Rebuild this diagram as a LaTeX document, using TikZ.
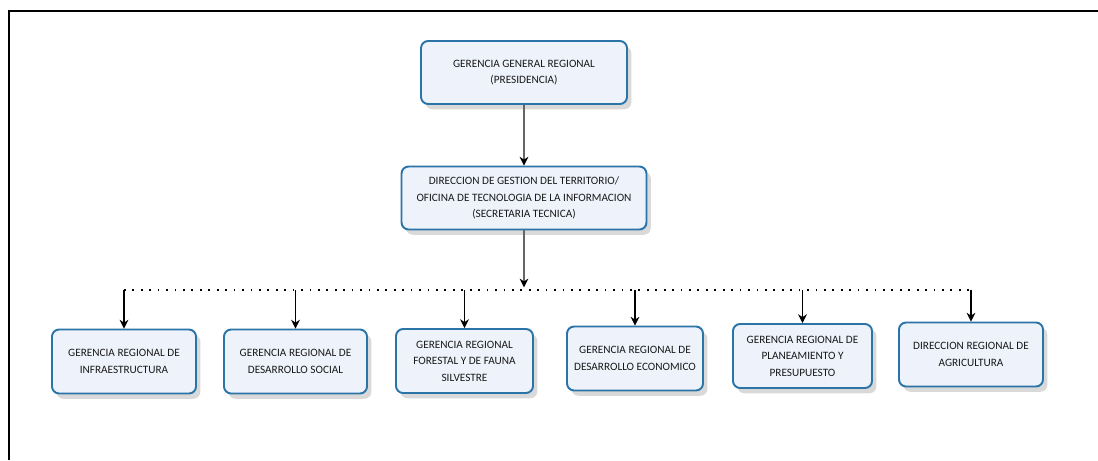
\documentclass[tikz,border=0pt]{standalone}
\usepackage{fontspec}
\setmainfont{Carlito}
\usetikzlibrary{shapes,arrows,shadows}
\usetikzlibrary{calc,arrows.meta}
\definecolor{boxline}{HTML}{2A74A8}
\definecolor{boxfill}{HTML}{EEF2FB}

\begin{document}
\begin{tikzpicture}[x=0.02cm,y=-0.02cm,
    box/.style={draw=boxline,line width=1.1pt,fill=boxfill,rounded corners=4pt,align=center,
      font=\fontsize{6.4}{9.4}\selectfont,text=black!90,inner sep=1pt,
      drop shadow={shadow xshift=2.5pt,shadow yshift=-3pt,opacity=0.3}},
    arr/.style={-{Stealth[length=5pt,width=5pt]},line width=0.6pt},
    arrtop/.style={arr,draw=black!60,-{Stealth[length=5pt,width=5pt,black]}},
    bus/.style={line width=1pt,dash pattern=on 1pt off 3.8pt}]
      \useasboundingbox (0,0) rectangle (1098,460);
      \draw[line width=1.1pt] (9,460) -- (9,11) -- (1098,11);
      \coordinate (bus) at (0,290);
      \node[box,minimum width=4.12cm,minimum height=1.26cm] (gg) at (524,72.5) {GERENCIA GENERAL REGIONAL\\(PRESIDENCIA)};
      \node[box,minimum width=4.9cm,minimum height=1.26cm] (dg) at (524,198) {DIRECCION DE GESTION DEL TERRITORIO/\\OFICINA DE TECNOLOGIA DE LA INFORMACION\\(SECRETARIA TECNICA)};
      \draw[arrtop] (gg) -- (dg);
      \draw[arrtop,shorten >=1.5pt] (dg) -- (dg.south |- bus);
      \foreach \n/\x/\y/\w/\t in {b1/124/361.5/144/{GERENCIA REGIONAL DE\\INFRAESTRUCTURA},
        b2/295.5/361.5/143/{GERENCIA REGIONAL DE\\DESARROLLO SOCIAL},
        b3/464.5/361/137/{GERENCIA REGIONAL\\FORESTAL Y DE FAUNA\\SILVESTRE},
        b4/635/358.5/136/{GERENCIA REGIONAL DE\\DESARROLLO ECONOMICO},
        b5/802.5/356/139/{GERENCIA REGIONAL DE\\PLANEAMIENTO Y\\PRESUPUESTO},
        b6/971/354.5/144/{DIRECCION REGIONAL DE\\AGRICULTURA}}
      {
        \node[box,minimum width=\w*0.02cm,minimum height=1.28cm] (\n) at (\x,\y) {\t};
        \draw[arr] (\n.north |- bus) -- (\n.north);
      }
      \draw[bus] (b1.north |- bus) -- (b6.north |- bus);
    \end{tikzpicture}
\end{document}
